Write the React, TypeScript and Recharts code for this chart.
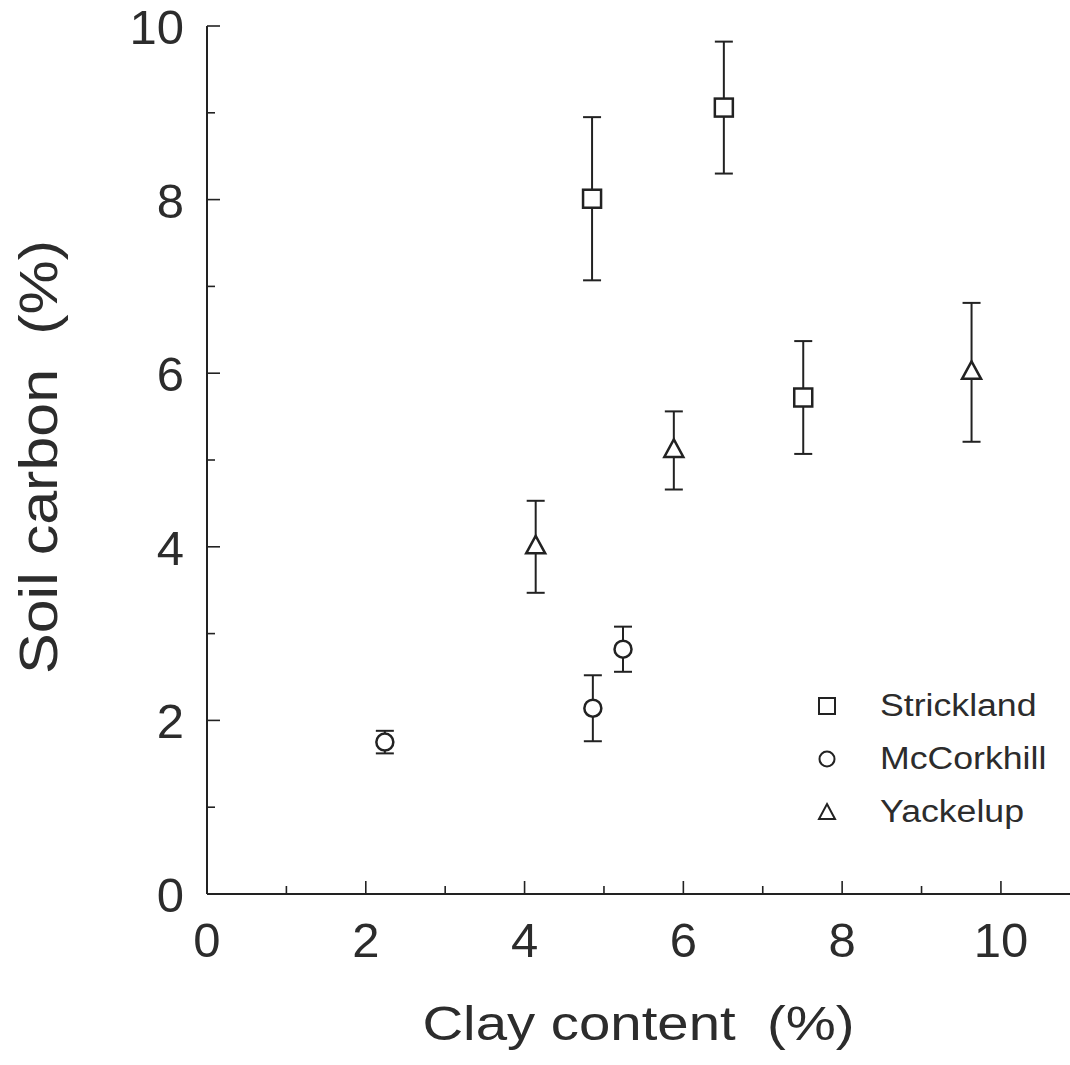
import React from "react";
import {
  ScatterChart,
  Scatter,
  XAxis,
  YAxis,
  ErrorBar,
  Legend,
  Label,
} from "recharts";

// ---- data ----
const stricklandX = [4.85, 6.51, 7.51];
const stricklandY = [8.01, 9.06, 5.72];
const stricklandErr = [0.94, 0.76, 0.65];

const mccorkhillX = [2.24, 4.86, 5.24];
const mccorkhillY = [1.75, 2.14, 2.82];
const mccorkhillErr = [0.13, 0.38, 0.26];

const yackelupX = [4.14, 5.88, 9.63];
const yackelupY = [4.0, 5.11, 6.01];
const yackelupErr = [0.53, 0.45, 0.8];

const seriesNames = ["Strickland", "McCorkhill", "Yackelup"];
const xTicks = [0, 1, 2, 3, 4, 5, 6, 7, 8, 9, 10];
const yTicks = [0, 1, 2, 3, 4, 5, 6, 7, 8, 9, 10];
const xTickLabels = ["0", "", "2", "", "4", "", "6", "", "8", "", "10"];
const yTickLabels = ["0", "", "2", "", "4", "", "6", "", "8", "", "10"];

const build = (xs: number[], ys: number[], es: number[]) =>
  xs.map((x, i) => ({ x, y: ys[i], err: es[i] }));

const stricklandData = build(stricklandX, stricklandY, stricklandErr);
const mccorkhillData = build(mccorkhillX, mccorkhillY, mccorkhillErr);
const yackelupData = build(yackelupX, yackelupY, yackelupErr);

const INK = "#222";
const TEXT = "#2c2c2c";
const FONT = "'Liberation Sans', Arial, sans-serif";

const SquareShape = (p: any) => (
  <rect x={p.cx - 9} y={p.cy - 9} width={18} height={18} fill="#fff" stroke={INK} strokeWidth={2.5} />
);
const CircleShape = (p: any) => (
  <circle cx={p.cx} cy={p.cy} r={8.5} fill="#fff" stroke={INK} strokeWidth={2.5} />
);
const TriangleShape = (p: any) => (
  <path
    d={`M${p.cx},${p.cy - 11} L${p.cx + 9.5},${p.cy + 6.5} L${p.cx - 9.5},${p.cy + 6.5} Z`}
    fill="#fff"
    stroke={INK}
    strokeWidth={2.5}
    strokeLinejoin="miter"
  />
);

const XTick = (p: any) => {
  const v = p.payload.value;
  const idx = xTicks.indexOf(v);
  const major = v % 2 === 0;
  return (
    <g>
      <line x1={p.x} x2={p.x} y1={p.y} y2={p.y - (major ? 13 : 8)} stroke={INK} strokeWidth={1.6} />
      {xTickLabels[idx] ? (
        <text x={p.x} y={p.y + 63} textAnchor="middle" fontSize={49} fill={TEXT} fontFamily={FONT}>
          {xTickLabels[idx]}
        </text>
      ) : null}
    </g>
  );
};

const YTick = (p: any) => {
  const v = p.payload.value;
  const idx = yTicks.indexOf(v);
  const major = v % 2 === 0;
  return (
    <g>
      <line x1={p.x} x2={p.x + (major ? 13 : 8)} y1={p.y} y2={p.y} stroke={INK} strokeWidth={1.6} />
      {yTickLabels[idx] ? (
        <text x={p.x - 23} y={p.y + 18} textAnchor="end" fontSize={49} fill={TEXT} fontFamily={FONT}>
          {yTickLabels[idx]}
        </text>
      ) : null}
    </g>
  );
};

const XLabel = (props: any) => {
  const vb = props.viewBox;
  const cx = vb.x + vb.width / 2;
  const by = vb.y + 146;
  return (
    <text
      transform={`translate(${cx},${by}) scale(1.15,1)`}
      textAnchor="middle"
      fontSize={49}
      fill={TEXT}
      fontFamily={FONT}
      style={{ whiteSpace: "pre" }}
    >
      {"Clay content  (%)"}
    </text>
  );
};

const YLabel = (props: any) => {
  const vb = props.viewBox;
  const cy = vb.y + vb.height / 2 - 3;
  return (
    <text
      transform={`translate(57,${cy}) rotate(-90) scale(1.13,1)`}
      textAnchor="middle"
      fontSize={54}
      fill={TEXT}
      fontFamily={FONT}
      style={{ whiteSpace: "pre" }}
    >
      {"Soil carbon  (%)"}
    </text>
  );
};

const legendMarker = (name: string) => {
  if (name === seriesNames[0])
    return <rect x={4} y={4} width={16} height={16} fill="#fff" stroke={INK} strokeWidth={2} />;
  if (name === seriesNames[1]) return <circle cx={12} cy={12} r={7.5} fill="#fff" stroke={INK} strokeWidth={2} />;
  return <path d="M12,4 L20,19 L4,19 Z" fill="#fff" stroke={INK} strokeWidth={2} />;
};

const LegendContent = (props: any) => {
  const payload = [...(props.payload || [])].sort(
    (a: any, b: any) => seriesNames.indexOf(a.value) - seriesNames.indexOf(b.value)
  );
  return (
    <div style={{ fontFamily: FONT }}>
      {payload.map((e: any) => (
        <div key={e.value} style={{ height: 53, display: "flex", alignItems: "center" }}>
          <svg width={24} height={24} style={{ display: "block" }}>
            {legendMarker(e.value)}
          </svg>
          <span
            style={{
              marginLeft: 41,
              fontSize: 31,
              color: TEXT,
              display: "inline-block",
              transform: "scaleX(1.15)",
              transformOrigin: "left center",
              whiteSpace: "nowrap",
            }}
          >
            {e.value}
          </span>
        </div>
      ))}
    </div>
  );
};

export default function App() {
  return (
    <div style={{ position: "absolute", left: 0, top: 0, background: "#fff" }}>
      <style>{"body{margin:0;background:#fff}"}</style>
      <ScatterChart width={1070} height={1065} margin={{ top: 26, right: 0, bottom: 0, left: 0 }}>
        <XAxis
          xAxisId="bottom"
          type="number"
          dataKey="x"
          domain={[0, 10.87]}
          allowDataOverflow
          ticks={xTicks}
          interval={0}
          height={171}
          tickLine={false}
          tickSize={0}
          tickMargin={0}
          axisLine={{ stroke: INK, strokeWidth: 2 }}
          tick={XTick}
        >
          <Label content={XLabel} />
        </XAxis>
        <XAxis
          xAxisId="top"
          orientation="top"
          type="number"
          dataKey="x"
          domain={[0, 10.87]}
          height={0}
          tick={false}
          tickLine={false}
          axisLine={{ stroke: INK, strokeWidth: 2 }}
        />
        <YAxis
          type="number"
          dataKey="y"
          domain={[0, 10]}
          ticks={yTicks}
          interval={0}
          width={207}
          tickLine={false}
          tickSize={0}
          tickMargin={0}
          axisLine={{ stroke: INK, strokeWidth: 2 }}
          tick={YTick}
        >
          <Label content={YLabel} />
        </YAxis>
        <Legend
          layout="vertical"
          align="center"
          verticalAlign="middle"
          wrapperStyle={{ position: "absolute", left: 815, top: 679, width: 250 }}
          content={LegendContent}
        />
        <Scatter
          name={seriesNames[0]}
          xAxisId="bottom"
          data={stricklandData}
          shape={SquareShape}
          isAnimationActive={false}
        >
          <ErrorBar dataKey="err" direction="y" width={9} stroke={INK} strokeWidth={2} isAnimationActive={false} />
        </Scatter>
        <Scatter
          name={seriesNames[1]}
          xAxisId="bottom"
          data={mccorkhillData}
          shape={CircleShape}
          isAnimationActive={false}
        >
          <ErrorBar dataKey="err" direction="y" width={9} stroke={INK} strokeWidth={2} isAnimationActive={false} />
        </Scatter>
        <Scatter
          name={seriesNames[2]}
          xAxisId="bottom"
          data={yackelupData}
          shape={TriangleShape}
          isAnimationActive={false}
        >
          <ErrorBar dataKey="err" direction="y" width={9} stroke={INK} strokeWidth={2} isAnimationActive={false} />
        </Scatter>
      </ScatterChart>
    </div>
  );
}
